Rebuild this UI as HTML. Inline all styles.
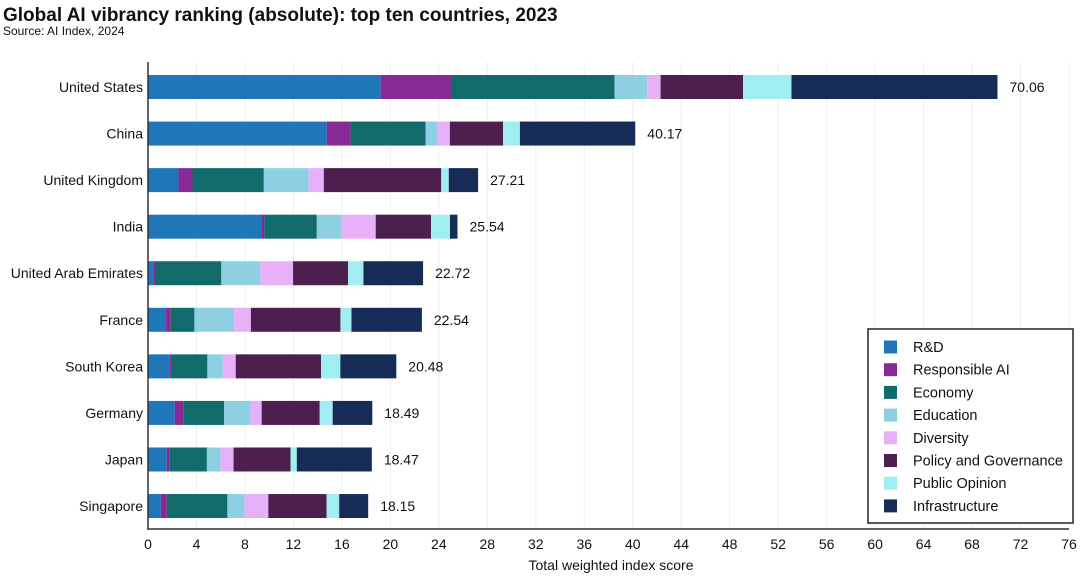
<!DOCTYPE html>
<html><head><meta charset="utf-8"><style>
body{margin:0;background:#fff;font-family:"Liberation Sans",sans-serif;}
svg text{font-family:"Liberation Sans",sans-serif;fill:#111;}
</style></head><body>
<svg width="1080" height="574" viewBox="0 0 1080 574">
<text x="3" y="21" font-size="19" font-weight="bold">Global AI vibrancy ranking (absolute): top ten countries, 2023</text>
<text x="3" y="35" font-size="12">Source: AI Index, 2024</text>
<g id="grid"></g><g id="bars"></g><g id="axes"></g><g id="legend"></g>
<text x="611" y="570" font-size="14" text-anchor="middle">Total weighted index score</text>
</svg>
<script>
const countries=["United States","China","United Kingdom","India","United Arab Emirates","France","South Korea","Germany","Japan","Singapore"];
const totals=["70.06","40.17","27.21","25.54","22.72","22.54","20.48","18.49","18.47","18.15"];
const seriesNames=["R&D","Responsible AI","Economy","Education","Diversity","Policy and Governance","Public Opinion","Infrastructure"];
const rd=[19.2,14.75,2.52,9.36,0.46,1.49,1.82,2.2,1.54,1.05];
const respAI=[5.8,1.97,1.15,0.24,0.2,0.39,0.08,0.71,0.21,0.5];
const economy=[13.5,6.19,5.89,4.33,5.39,1.95,3.0,3.38,3.11,5.0];
const education=[2.7,0.94,3.71,2.0,3.22,3.28,1.27,2.18,1.13,1.43];
const diversity=[1.1,1.06,1.24,2.86,2.7,1.38,1.07,0.91,1.07,1.95];
const policy=[6.8,4.39,9.69,4.57,4.54,7.39,7.04,4.79,4.7,4.81];
const publicOpinion=[4.0,1.39,0.62,1.56,1.27,0.91,1.59,1.07,0.52,1.04];
const infrastructure=[17.0,9.52,2.42,0.62,4.92,5.81,4.62,3.27,6.19,2.39];
const xTicks=[0,4,8,12,16,20,24,28,32,36,40,44,48,52,56,60,64,68,72,76];
const series=[rd,respAI,economy,education,diversity,policy,publicOpinion,infrastructure];
const colors=["#1f77b9","#872a96","#116b6b","#8ecfe2","#e8b0f8","#4d1f4f","#a0eef0","#172b57"];
const NS="http://www.w3.org/2000/svg";
const x0=148,x1=1069,yTop=62,yBot=529;
const xs=v=>x0+v*(x1-x0)/76;
const yc=i=>87+i*46.56;
function mk(t,a,p){const e=document.createElementNS(NS,t);for(const k in a)e.setAttribute(k,a[k]);p.appendChild(e);return e;}
const grid=document.getElementById('grid'),bars=document.getElementById('bars'),axes=document.getElementById('axes'),leg=document.getElementById('legend');
xTicks.forEach(t=>{
 const l=mk('line',{x1:xs(t),x2:xs(t),y1:yTop,y2:yBot,stroke:'#eeeeee','stroke-width':1},grid);
 
 
 const tx=mk('text',{x:xs(t),y:549,'font-size':14,'text-anchor':'middle'},axes);tx.textContent=t;
 
 
});
mk('line',{x1:x0,x2:x0,y1:yTop,y2:yBot+1,stroke:'#333','stroke-width':1.5},axes);
mk('line',{x1:x0,x2:x1,y1:yBot,y2:yBot,stroke:'#333','stroke-width':1.5},axes);
countries.forEach((c,i)=>{
 let cum=0;
 series.forEach((s,k)=>{
  const r=mk('rect',{x:xs(cum),y:yc(i)-12,width:xs(cum+s[i])-xs(cum),height:24,fill:colors[k]},bars);
  
  
  cum+=s[i];
 });
 const lb=mk('text',{x:143,y:yc(i)+5,'font-size':14,'text-anchor':'end'},axes);lb.textContent=c;
 
 
 const vl=mk('text',{x:xs(cum)+12,y:yc(i)+5,'font-size':14},bars);vl.textContent=totals[i];
 
 
});
const box=mk('rect',{x:868,y:329,width:205,height:194,fill:'#fff',stroke:'#222','stroke-width':1.5},leg);


seriesNames.forEach((n,k)=>{
 const y=347+k*22.7;
 const sw=mk('rect',{x:884,y:y-6.5,width:13,height:13,fill:colors[k]},leg);
 
 
 const t=mk('text',{x:913,y:y+5,'font-size':14.5},leg);t.textContent=n;
 
 
});
</script>
</body></html>
